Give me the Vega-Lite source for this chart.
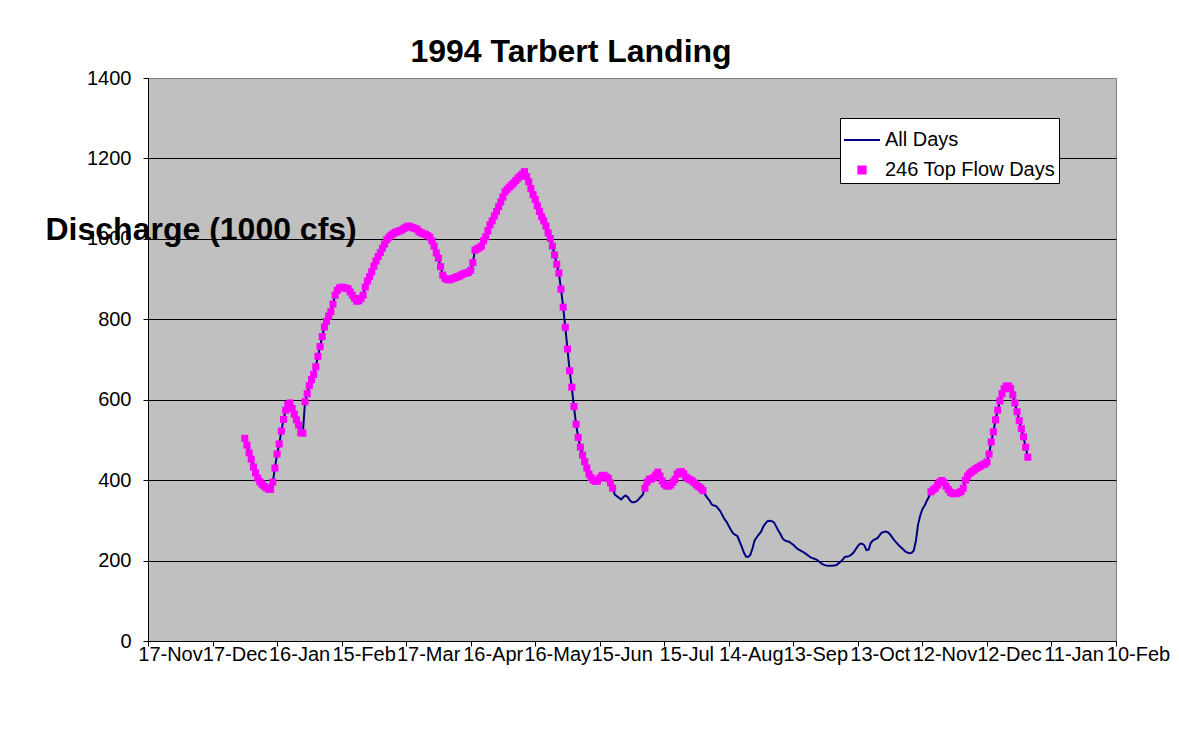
{
  "$schema": "https://vega.github.io/schema/vega-lite/v6.json",
  "width": 968,
  "height": 563,
  "autosize": {"type": "none"},
  "padding": {"left": 148, "top": 78, "right": 63, "bottom": 99},
  "background": "white",
  "title": {"text": "1994 Tarbert Landing", "font": "Liberation Sans", "fontSize": 32, "fontWeight": "bold", "color": "black", "anchor": "middle", "dx": -61, "offset": -26, "baseline": "alphabetic"},
  "data": {"values": [
    {"d":"1994-01-01","q":504},{"d":"1994-01-02","q":487},{"d":"1994-01-03","q":468},{"d":"1994-01-04","q":452},{"d":"1994-01-05","q":433},{"d":"1994-01-06","q":418},{"d":"1994-01-07","q":405},{"d":"1994-01-08","q":396},{"d":"1994-01-09","q":390},{"d":"1994-01-10","q":385},{"d":"1994-01-11","q":381},{"d":"1994-01-12","q":378},{"d":"1994-01-13","q":377},{"d":"1994-01-14","q":395},{"d":"1994-01-15","q":430},{"d":"1994-01-16","q":465},{"d":"1994-01-17","q":490},{"d":"1994-01-18","q":522},{"d":"1994-01-19","q":551},{"d":"1994-01-20","q":574},{"d":"1994-01-21","q":588},{"d":"1994-01-22","q":592},{"d":"1994-01-23","q":578},{"d":"1994-01-24","q":564},{"d":"1994-01-25","q":550},{"d":"1994-01-26","q":537},{"d":"1994-01-27","q":518},{"d":"1994-01-28","q":517},{"d":"1994-01-29","q":595},{"d":"1994-01-30","q":615},{"d":"1994-01-31","q":635},
    {"d":"1994-02-01","q":650},{"d":"1994-02-02","q":663},{"d":"1994-02-03","q":682},{"d":"1994-02-04","q":708},{"d":"1994-02-05","q":732},{"d":"1994-02-06","q":757},{"d":"1994-02-07","q":781},{"d":"1994-02-08","q":795},{"d":"1994-02-09","q":808},{"d":"1994-02-10","q":819},{"d":"1994-02-11","q":838},{"d":"1994-02-12","q":860},{"d":"1994-02-13","q":872},{"d":"1994-02-14","q":878},{"d":"1994-02-15","q":880},{"d":"1994-02-16","q":879},{"d":"1994-02-17","q":877},{"d":"1994-02-18","q":876},{"d":"1994-02-19","q":868},{"d":"1994-02-20","q":860},{"d":"1994-02-21","q":852},{"d":"1994-02-22","q":845},{"d":"1994-02-23","q":846},{"d":"1994-02-24","q":852},{"d":"1994-02-25","q":860},{"d":"1994-02-26","q":880},{"d":"1994-02-27","q":895},{"d":"1994-02-28","q":906},
    {"d":"1994-03-01","q":918},{"d":"1994-03-02","q":932},{"d":"1994-03-03","q":945},{"d":"1994-03-04","q":956},{"d":"1994-03-05","q":966},{"d":"1994-03-06","q":977},{"d":"1994-03-07","q":987},{"d":"1994-03-08","q":998},{"d":"1994-03-09","q":1004},{"d":"1994-03-10","q":1009},{"d":"1994-03-11","q":1013},{"d":"1994-03-12","q":1016},{"d":"1994-03-13","q":1018},{"d":"1994-03-14","q":1020},{"d":"1994-03-15","q":1022},{"d":"1994-03-16","q":1026},{"d":"1994-03-17","q":1029},{"d":"1994-03-18","q":1032},{"d":"1994-03-19","q":1030},{"d":"1994-03-20","q":1028},{"d":"1994-03-21","q":1026},{"d":"1994-03-22","q":1024},{"d":"1994-03-23","q":1018},{"d":"1994-03-24","q":1015},{"d":"1994-03-25","q":1013},{"d":"1994-03-26","q":1011},{"d":"1994-03-27","q":1008},{"d":"1994-03-28","q":1004},{"d":"1994-03-29","q":995},{"d":"1994-03-30","q":982},{"d":"1994-03-31","q":965},
    {"d":"1994-04-01","q":952},{"d":"1994-04-02","q":931},{"d":"1994-04-03","q":910},{"d":"1994-04-04","q":902},{"d":"1994-04-05","q":899},{"d":"1994-04-06","q":898},{"d":"1994-04-07","q":900},{"d":"1994-04-08","q":902},{"d":"1994-04-09","q":904},{"d":"1994-04-10","q":906},{"d":"1994-04-11","q":908},{"d":"1994-04-12","q":911},{"d":"1994-04-13","q":914},{"d":"1994-04-14","q":915},{"d":"1994-04-15","q":917},{"d":"1994-04-16","q":922},{"d":"1994-04-17","q":941},{"d":"1994-04-18","q":972},{"d":"1994-04-19","q":975},{"d":"1994-04-20","q":978},{"d":"1994-04-21","q":982},{"d":"1994-04-22","q":995},{"d":"1994-04-23","q":1005},{"d":"1994-04-24","q":1020},{"d":"1994-04-25","q":1035},{"d":"1994-04-26","q":1045},{"d":"1994-04-27","q":1057},{"d":"1994-04-28","q":1068},{"d":"1994-04-29","q":1080},{"d":"1994-04-30","q":1092},
    {"d":"1994-05-01","q":1104},{"d":"1994-05-02","q":1117},{"d":"1994-05-03","q":1123},{"d":"1994-05-04","q":1129},{"d":"1994-05-05","q":1134},{"d":"1994-05-06","q":1139},{"d":"1994-05-07","q":1145},{"d":"1994-05-08","q":1151},{"d":"1994-05-09","q":1156},{"d":"1994-05-10","q":1161},{"d":"1994-05-11","q":1167},{"d":"1994-05-12","q":1155},{"d":"1994-05-13","q":1142},{"d":"1994-05-14","q":1125},{"d":"1994-05-15","q":1110},{"d":"1994-05-16","q":1098},{"d":"1994-05-17","q":1082},{"d":"1994-05-18","q":1068},{"d":"1994-05-19","q":1055},{"d":"1994-05-20","q":1045},{"d":"1994-05-21","q":1032},{"d":"1994-05-22","q":1015},{"d":"1994-05-23","q":1001},{"d":"1994-05-24","q":982},{"d":"1994-05-25","q":960},{"d":"1994-05-26","q":937},{"d":"1994-05-27","q":915},{"d":"1994-05-28","q":875},{"d":"1994-05-29","q":830},{"d":"1994-05-30","q":780},{"d":"1994-05-31","q":726},
    {"d":"1994-06-01","q":672},{"d":"1994-06-02","q":631},{"d":"1994-06-03","q":583},{"d":"1994-06-04","q":539},{"d":"1994-06-05","q":506},{"d":"1994-06-06","q":482},{"d":"1994-06-07","q":462},{"d":"1994-06-08","q":446},{"d":"1994-06-09","q":430},{"d":"1994-06-10","q":415},{"d":"1994-06-11","q":406},{"d":"1994-06-12","q":400},{"d":"1994-06-13","q":397},{"d":"1994-06-14","q":398},{"d":"1994-06-15","q":405},{"d":"1994-06-16","q":411},{"d":"1994-06-17","q":412},{"d":"1994-06-18","q":408},{"d":"1994-06-19","q":404},{"d":"1994-06-20","q":393},{"d":"1994-06-21","q":380},{"d":"1994-06-22","q":364},{"d":"1994-06-23","q":360},{"d":"1994-06-24","q":356},{"d":"1994-06-25","q":352},{"d":"1994-06-26","q":358},{"d":"1994-06-27","q":362},{"d":"1994-06-28","q":358},{"d":"1994-06-29","q":350},{"d":"1994-06-30","q":345},
    {"d":"1994-07-01","q":345},{"d":"1994-07-02","q":347},{"d":"1994-07-03","q":352},{"d":"1994-07-04","q":358},{"d":"1994-07-05","q":364},{"d":"1994-07-06","q":380},{"d":"1994-07-07","q":395},{"d":"1994-07-08","q":402},{"d":"1994-07-09","q":403},{"d":"1994-07-10","q":406},{"d":"1994-07-11","q":413},{"d":"1994-07-12","q":420},{"d":"1994-07-13","q":410},{"d":"1994-07-14","q":398},{"d":"1994-07-15","q":390},{"d":"1994-07-16","q":386},{"d":"1994-07-17","q":385},{"d":"1994-07-18","q":388},{"d":"1994-07-19","q":395},{"d":"1994-07-20","q":402},{"d":"1994-07-21","q":415},{"d":"1994-07-22","q":420},{"d":"1994-07-23","q":421},{"d":"1994-07-24","q":416},{"d":"1994-07-25","q":408},{"d":"1994-07-26","q":404},{"d":"1994-07-27","q":401},{"d":"1994-07-28","q":398},{"d":"1994-07-29","q":393},{"d":"1994-07-30","q":388},{"d":"1994-07-31","q":384},
    {"d":"1994-08-01","q":380},{"d":"1994-08-02","q":374},{"d":"1994-08-03","q":364},{"d":"1994-08-04","q":356},{"d":"1994-08-05","q":350},{"d":"1994-08-06","q":340},{"d":"1994-08-07","q":337},{"d":"1994-08-08","q":336},{"d":"1994-08-09","q":330},{"d":"1994-08-10","q":323},{"d":"1994-08-11","q":313},{"d":"1994-08-12","q":303},{"d":"1994-08-13","q":296},{"d":"1994-08-14","q":286},{"d":"1994-08-15","q":276},{"d":"1994-08-16","q":268},{"d":"1994-08-17","q":264},{"d":"1994-08-18","q":261},{"d":"1994-08-19","q":248},{"d":"1994-08-20","q":235},{"d":"1994-08-21","q":220},{"d":"1994-08-22","q":210},{"d":"1994-08-23","q":209},{"d":"1994-08-24","q":214},{"d":"1994-08-25","q":230},{"d":"1994-08-26","q":250},{"d":"1994-08-27","q":258},{"d":"1994-08-28","q":265},{"d":"1994-08-29","q":272},{"d":"1994-08-30","q":284},{"d":"1994-08-31","q":292},
    {"d":"1994-09-01","q":298},{"d":"1994-09-02","q":299},{"d":"1994-09-03","q":298},{"d":"1994-09-04","q":295},{"d":"1994-09-05","q":285},{"d":"1994-09-06","q":275},{"d":"1994-09-07","q":266},{"d":"1994-09-08","q":255},{"d":"1994-09-09","q":250},{"d":"1994-09-10","q":248},{"d":"1994-09-11","q":247},{"d":"1994-09-12","q":243},{"d":"1994-09-13","q":239},{"d":"1994-09-14","q":234},{"d":"1994-09-15","q":229},{"d":"1994-09-16","q":226},{"d":"1994-09-17","q":223},{"d":"1994-09-18","q":220},{"d":"1994-09-19","q":216},{"d":"1994-09-20","q":212},{"d":"1994-09-21","q":208},{"d":"1994-09-22","q":206},{"d":"1994-09-23","q":204},{"d":"1994-09-24","q":202},{"d":"1994-09-25","q":197},{"d":"1994-09-26","q":193},{"d":"1994-09-27","q":190},{"d":"1994-09-28","q":188},{"d":"1994-09-29","q":187},{"d":"1994-09-30","q":187},
    {"d":"1994-10-01","q":187},{"d":"1994-10-02","q":188},{"d":"1994-10-03","q":189},{"d":"1994-10-04","q":193},{"d":"1994-10-05","q":197},{"d":"1994-10-06","q":203},{"d":"1994-10-07","q":209},{"d":"1994-10-08","q":210},{"d":"1994-10-09","q":211},{"d":"1994-10-10","q":215},{"d":"1994-10-11","q":220},{"d":"1994-10-12","q":228},{"d":"1994-10-13","q":236},{"d":"1994-10-14","q":242},{"d":"1994-10-15","q":242},{"d":"1994-10-16","q":238},{"d":"1994-10-17","q":226},{"d":"1994-10-18","q":227},{"d":"1994-10-19","q":244},{"d":"1994-10-20","q":250},{"d":"1994-10-21","q":253},{"d":"1994-10-22","q":255},{"d":"1994-10-23","q":262},{"d":"1994-10-24","q":269},{"d":"1994-10-25","q":271},{"d":"1994-10-26","q":272},{"d":"1994-10-27","q":270},{"d":"1994-10-28","q":265},{"d":"1994-10-29","q":257},{"d":"1994-10-30","q":250},{"d":"1994-10-31","q":244},
    {"d":"1994-11-01","q":238},{"d":"1994-11-02","q":233},{"d":"1994-11-03","q":228},{"d":"1994-11-04","q":223},{"d":"1994-11-05","q":220},{"d":"1994-11-06","q":218},{"d":"1994-11-07","q":219},{"d":"1994-11-08","q":225},{"d":"1994-11-09","q":250},{"d":"1994-11-10","q":290},{"d":"1994-11-11","q":312},{"d":"1994-11-12","q":328},{"d":"1994-11-13","q":336},{"d":"1994-11-14","q":348},{"d":"1994-11-15","q":358},{"d":"1994-11-16","q":371},{"d":"1994-11-17","q":376},{"d":"1994-11-18","q":380},{"d":"1994-11-19","q":388},{"d":"1994-11-20","q":395},{"d":"1994-11-21","q":399},{"d":"1994-11-22","q":394},{"d":"1994-11-23","q":385},{"d":"1994-11-24","q":377},{"d":"1994-11-25","q":370},{"d":"1994-11-26","q":367},{"d":"1994-11-27","q":366},{"d":"1994-11-28","q":367},{"d":"1994-11-29","q":369},{"d":"1994-11-30","q":372},
    {"d":"1994-12-01","q":380},{"d":"1994-12-02","q":400},{"d":"1994-12-03","q":410},{"d":"1994-12-04","q":417},{"d":"1994-12-05","q":421},{"d":"1994-12-06","q":425},{"d":"1994-12-07","q":429},{"d":"1994-12-08","q":432},{"d":"1994-12-09","q":435},{"d":"1994-12-10","q":438},{"d":"1994-12-11","q":440},{"d":"1994-12-12","q":445},{"d":"1994-12-13","q":465},{"d":"1994-12-14","q":495},{"d":"1994-12-15","q":520},{"d":"1994-12-16","q":550},{"d":"1994-12-17","q":574},{"d":"1994-12-18","q":597},{"d":"1994-12-19","q":615},{"d":"1994-12-20","q":627},{"d":"1994-12-21","q":634},{"d":"1994-12-22","q":634},{"d":"1994-12-23","q":628},{"d":"1994-12-24","q":612},{"d":"1994-12-25","q":592},{"d":"1994-12-26","q":570},{"d":"1994-12-27","q":548},{"d":"1994-12-28","q":528},{"d":"1994-12-29","q":508},{"d":"1994-12-30","q":482},{"d":"1994-12-31","q":457}
  ]},
  "encoding": {
    "x": {
      "field": "d", "type": "temporal",
      "scale": {"type": "utc", "domain": [{"year": 1993, "month": 11, "date": 17, "utc": true}, {"year": 1995, "month": 2, "date": 10, "utc": true}]},
      "axis": {
        "orient": "bottom",
        "title": null,
        "values": [
          {"year": 1993, "month": 11, "date": 17, "utc": true},
          {"year": 1993, "month": 12, "date": 17, "utc": true},
          {"year": 1994, "month": 1, "date": 16, "utc": true},
          {"year": 1994, "month": 2, "date": 15, "utc": true},
          {"year": 1994, "month": 3, "date": 17, "utc": true},
          {"year": 1994, "month": 4, "date": 16, "utc": true},
          {"year": 1994, "month": 5, "date": 16, "utc": true},
          {"year": 1994, "month": 6, "date": 15, "utc": true},
          {"year": 1994, "month": 7, "date": 15, "utc": true},
          {"year": 1994, "month": 8, "date": 14, "utc": true},
          {"year": 1994, "month": 9, "date": 13, "utc": true},
          {"year": 1994, "month": 10, "date": 13, "utc": true},
          {"year": 1994, "month": 11, "date": 12, "utc": true},
          {"year": 1994, "month": 12, "date": 12, "utc": true},
          {"year": 1995, "month": 1, "date": 11, "utc": true},
          {"year": 1995, "month": 2, "date": 10, "utc": true}
        ],
        "format": "%-d-%b",
        "grid": false,
        "labelAlign": "center",
        "labelOffset": 22,
        "labelOverlap": false,
        "labelFlush": false,
        "labelBound": false,
        "tickSize": 5,
        "labelPadding": -2
      }
    },
    "y": {
      "field": "q", "type": "quantitative",
      "scale": {"domain": [0, 1400], "nice": false},
      "axis": {
        "values": [0, 200, 400, 600, 800, 1000, 1200, 1400],
        "format": "d",
        "grid": true,
        "gridColor": {"condition": {"test": "datum.value === 1400 || datum.value === 0", "value": "#808080"}, "value": "black"},
        "tickSize": 5,
        "labelPadding": 12,
        "title": "Discharge (1000 cfs)",
        "titleAngle": 0,
        "titleX": -103,
        "titleY": 161,
        "titleAlign": "left",
        "titleBaseline": "alphabetic",
        "titleFontSize": 32,
        "titleFontWeight": "bold",
        "titleColor": "black"
      }
    }
  },
  "layer": [
    {
      "mark": {"type": "line", "strokeWidth": 2},
      "encoding": {
        "color": {
          "datum": "All Days",
          "scale": {"domain": ["All Days", "246 Top Flow Days"], "range": ["#000080", "#FF00FF"]},
          "legend": {
            "title": null,
            "orient": "none",
            "legendX": 692,
            "legendY": 40,
            "fillColor": "white",
            "strokeColor": "black",
            "padding": 3,
            "labelFontSize": 20,
            "labelFont": "Liberation Sans",
            "labelColor": "black",
            "labelLimit": 0,
            "labelOffset": 4,
            "symbolSize": 1296,
            "rowPadding": 1,
            "encode": {
              "symbols": {
                "update": {
                  "shape": {"signal": "datum.value === 'All Days' ? 'stroke' : 'M-0.2,-0.2H0.2V0.2H-0.2Z'"},
                  "fill": {"signal": "datum.value === 'All Days' ? 'transparent' : '#FF00FF'"},
                  "stroke": {"signal": "datum.value === 'All Days' ? '#000080' : 'transparent'"},
                  "strokeWidth": {"value": 2},
                  "opacity": {"value": 1}
                }
              }
            }
          }
        }
      }
    },
    {
      "transform": [{"filter": "datum.q >= 365"}],
      "mark": {"type": "square", "size": 50, "filled": true, "opacity": 1},
      "encoding": {
        "color": {"datum": "246 Top Flow Days"}
      }
    }
  ],
  "config": {
    "font": "Liberation Sans",
    "view": {"fill": "#C0C0C0", "stroke": "#808080", "strokeWidth": 1},
    "axis": {
      "labelFont": "Liberation Sans",
      "labelFontSize": 20,
      "labelColor": "black",
      "domainColor": "black",
      "tickColor": "black",
      "gridOpacity": 1,
      "gridWidth": 1
    }
  }
}
